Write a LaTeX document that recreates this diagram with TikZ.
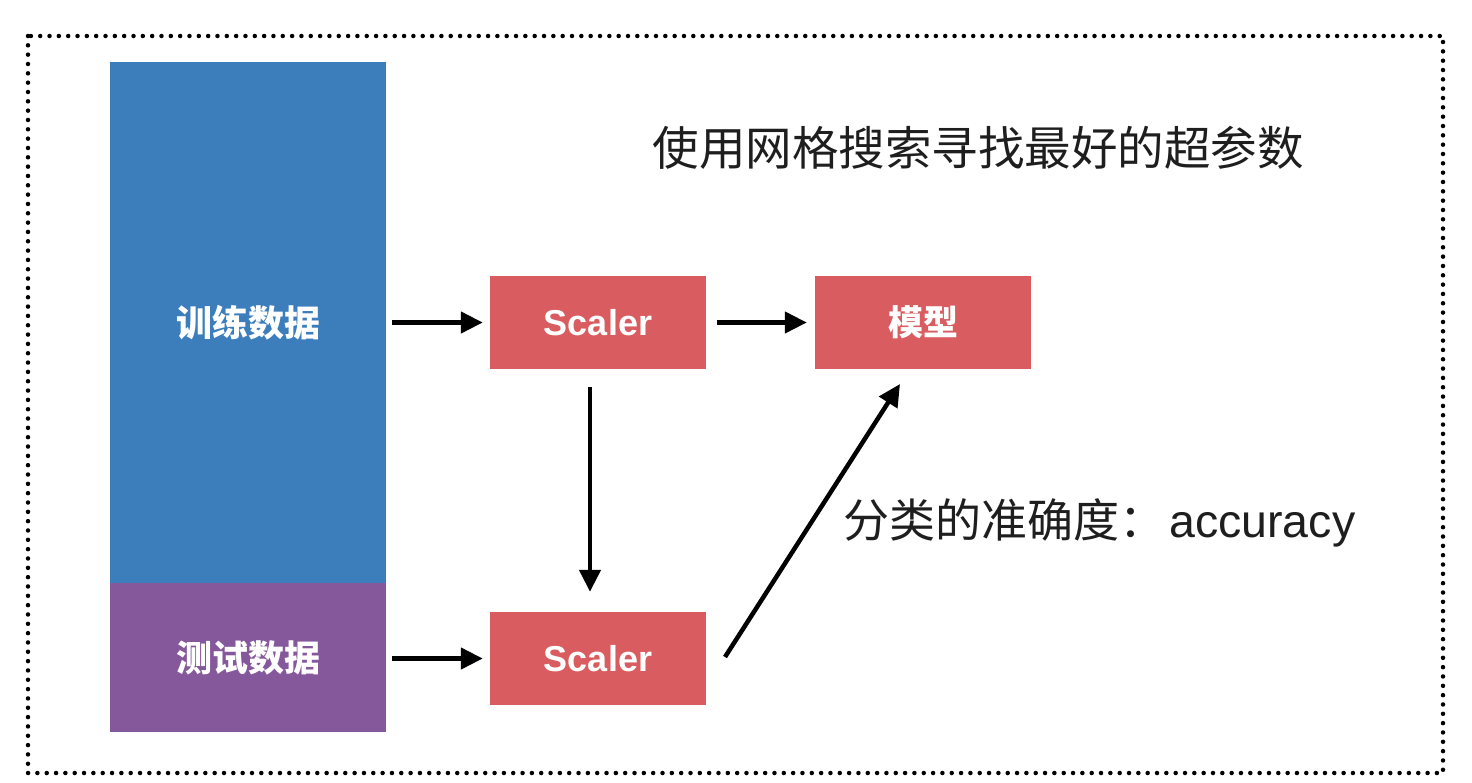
\documentclass[tikz,border=0pt]{standalone}
\usepackage{fontspec}
\setmainfont{Liberation Sans}
\newfontfamily\cjk{Noto Sans CJK SC}
\usetikzlibrary{arrows.meta,calc}
\definecolor{dblue}{RGB}{60,126,187}
\definecolor{dpurple}{RGB}{133,87,155}
\definecolor{dred}{RGB}{216,92,96}
\definecolor{txt}{RGB}{30,30,30}
\tikzset{
  databox/.style={draw=none, inner sep=0pt, minimum width=276pt, text=white, font=\cjk\bfseries\fontsize{36}{40}\selectfont},
  redbox/.style={fill=dred, inner sep=0pt, minimum width=216pt, minimum height=93pt, text=white},
  conn/.style={line width=4.5pt, -{Triangle[length=22pt,width=21pt]}},
}
\begin{document}
\begin{tikzpicture}[x=1pt,y=-1pt]
\useasboundingbox (0,0) rectangle (1472,782);
\draw[line width=4.5pt, line cap=round, dash pattern=on 0pt off 9.33pt, black] (28,36) rectangle (1443,773);
\node[databox, fill=dblue, minimum height=521pt] (train) at (248,322.5) {训练数据};
\node[databox, fill=dpurple, minimum height=149pt] (test) at (248,657.5) {测试数据};
\node[redbox, font=\bfseries\fontsize{36}{40}\selectfont] (sc1) at (598,322.5) {Scaler};
\node[redbox, font=\cjk\bfseries\fontsize{35}{40}\selectfont] (model) at (923,322.5) {模型};
\node[redbox, font=\bfseries\fontsize{36}{40}\selectfont] (sc2) at (598,658.5) {Scaler};
\node[text=txt, font=\cjk\fontsize{46.5}{52}\selectfont] (title) at (978,148) {使用网格搜索寻找最好的超参数};
\node[text=txt, anchor=west, inner sep=0pt] (acc) at (843,523) {\cjk\fontsize{46}{52}\selectfont 分类的准确度：\hspace{4pt}\fontspec{Liberation Sans}\fontsize{46.5}{52}\selectfont accuracy};
\coordinate (d1) at (725,657);
\coordinate (d2) at (900,384);
\draw[conn, shorten <=6pt, shorten >=7pt] (train.east |- sc1.west) -- (sc1.west);
\draw[conn, shorten <=11pt, shorten >=8pt] (sc1.east) -- (model.west);
\draw[conn, shorten <=18pt, shorten >=20pt] ($(sc1.south)+(-8,0)$) -- ($(sc2.north)+(-8,0)$);
\draw[conn, shorten <=6pt, shorten >=7pt] (test.east |- sc2.west) -- (sc2.west);
\draw[conn] (d1) -- (d2);
\end{tikzpicture}
\end{document}
